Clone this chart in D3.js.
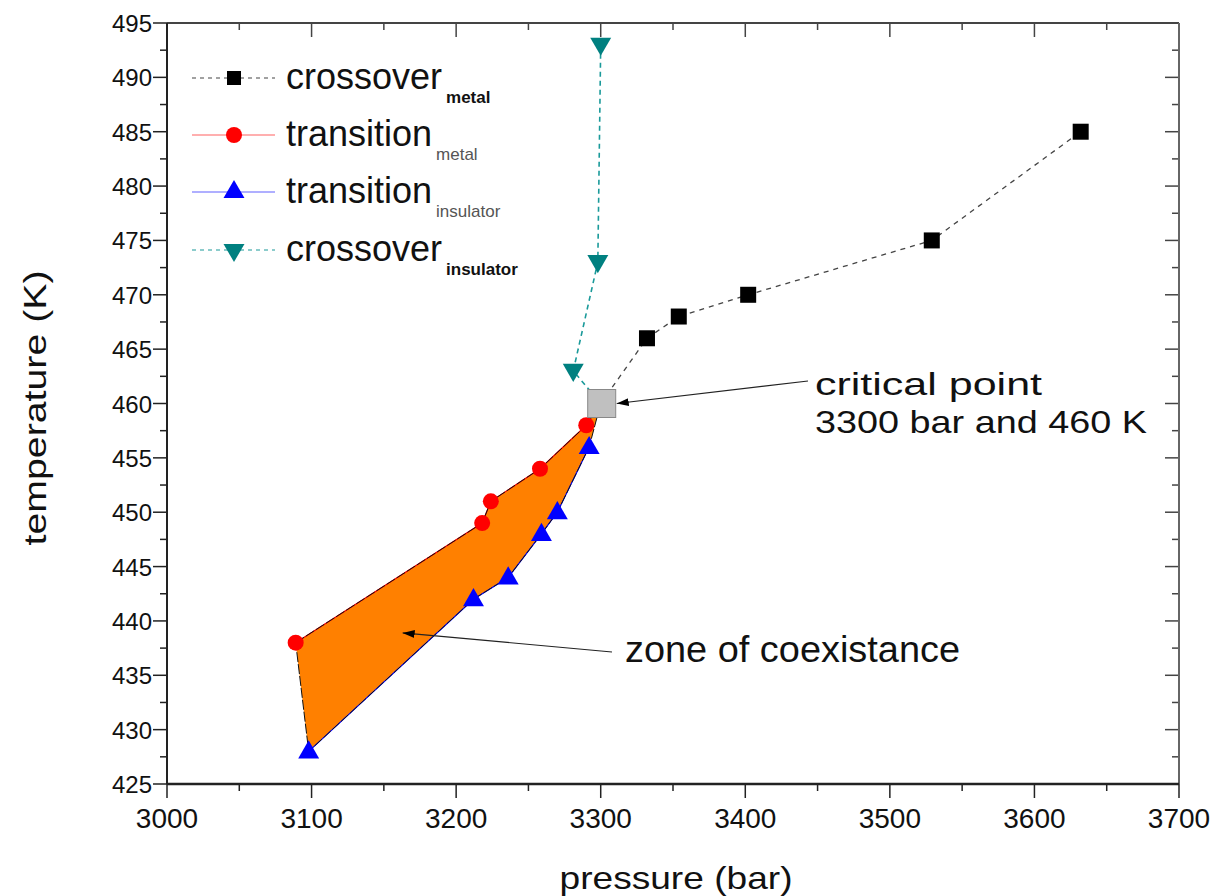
<!DOCTYPE html>
<html>
<head>
<meta charset="utf-8">
<script src="https://cdn.jsdelivr.net/npm/d3@7"></script>
<style>
  html, body { margin: 0; padding: 0; background: #fff; }
  svg { display: block; font-family: "Liberation Sans", Arial, sans-serif; }
</style>
</head>
<body>
<svg id="chart" width="1214" height="896"></svg>
<script>
// ---------------- data ----------------
const criticalPoint = [3300, 460];

const crossoverMetalP = [3300, 3332, 3354, 3402, 3529, 3632];
const crossoverMetalT = [460, 466, 468, 470, 475, 485];

const transitionMetalP = [3089, 3218, 3224, 3258, 3290];
const transitionMetalT = [438, 449, 451, 454, 458];

const transitionInsulatorP = [3098, 3212, 3236, 3259, 3270, 3292];
const transitionInsulatorT = [428, 442, 444, 448, 450, 456];

const crossoverInsulatorP = [3300, 3298, 3281, 3300];
const crossoverInsulatorT = [493, 473, 463, 460];
const crossoverInsulatorMarkers = 3; // last point is the critical point (hidden under square)

const xTicks = [3000, 3100, 3200, 3300, 3400, 3500, 3600, 3700];
const yTicks = [425, 430, 435, 440, 445, 450, 455, 460, 465, 470, 475, 480, 485, 490, 495];

const legendLabels = ["crossover", "transition", "transition", "crossover"];
const legendSubs = ["metal", "metal", "insulator", "insulator"];

// ---------------- layout ----------------
const svg = d3.select("#chart");
const L = 167, R = 1179, T = 23, B = 784;
const x = d3.scaleLinear().domain([3000, 3700]).range([L, R]);
const y = d3.scaleLinear().domain([425, 495]).range([B, T]);

const zip = (a, b) => a.map((v, i) => [v, b[i]]);
const cm = zip(crossoverMetalP, crossoverMetalT);
const tm = zip(transitionMetalP, transitionMetalT);
const ti = zip(transitionInsulatorP, transitionInsulatorT);
const ci = zip(crossoverInsulatorP, crossoverInsulatorT);

const line = d3.line().x(d => x(d[0])).y(d => y(d[1]));

const defs = svg.append("defs");
defs.append("marker").attr("id", "arrow")
  .attr("viewBox", "0 0 12 8").attr("refX", 12).attr("refY", 4)
  .attr("markerWidth", 12).attr("markerHeight", 8)
  .attr("markerUnits", "userSpaceOnUse").attr("orient", "auto-start-reverse")
  .append("path").attr("d", "M0,0 L12,4 L0,8 Z").attr("fill", "#000");

// ---------------- axes ----------------
const minorX = d3.range(3050, 3700, 100);
const minorY = d3.range(427.5, 495, 5);

// bottom (outward)
const gB = svg.append("g").attr("transform", `translate(0,${B})`);
gB.selectAll("line.maj").data(xTicks).join("line")
  .attr("x1", d => x(d)).attr("x2", d => x(d)).attr("y1", 0).attr("y2", 14)
  .attr("stroke", "#222").attr("stroke-width", 1.5);
gB.selectAll("line.min").data(minorX).join("line")
  .attr("x1", d => x(d)).attr("x2", d => x(d)).attr("y1", 0).attr("y2", 7)
  .attr("stroke", "#222").attr("stroke-width", 1.5);
gB.selectAll("text").data(xTicks).join("text")
  .attr("x", d => x(d)).attr("y", 44).attr("text-anchor", "middle")
  .attr("font-size", 28).attr("fill", "#111").text(d => d);

// top (inward)
const gT = svg.append("g").attr("transform", `translate(0,${T})`);
gT.selectAll("line.maj").data(xTicks).join("line")
  .attr("x1", d => x(d)).attr("x2", d => x(d)).attr("y1", 0).attr("y2", 14)
  .attr("stroke", "#444").attr("stroke-width", 1.5);
gT.selectAll("line.min").data(minorX).join("line")
  .attr("x1", d => x(d)).attr("x2", d => x(d)).attr("y1", 0).attr("y2", 7)
  .attr("stroke", "#444").attr("stroke-width", 1.5);

// left (outward)
const gL = svg.append("g").attr("transform", `translate(${L},0)`);
gL.selectAll("line.maj").data(yTicks).join("line")
  .attr("x1", -14).attr("x2", 0).attr("y1", d => y(d)).attr("y2", d => y(d))
  .attr("stroke", "#222").attr("stroke-width", 1.5);
gL.selectAll("line.min").data(minorY).join("line")
  .attr("x1", -7).attr("x2", 0).attr("y1", d => y(d)).attr("y2", d => y(d))
  .attr("stroke", "#222").attr("stroke-width", 1.5);
gL.selectAll("text").data(yTicks).join("text")
  .attr("x", -15).attr("y", d => y(d) + 9).attr("text-anchor", "end")
  .attr("font-size", 24).attr("fill", "#111").text(d => d);

// right (inward)
const gR = svg.append("g").attr("transform", `translate(${R},0)`);
gR.selectAll("line.maj").data(yTicks).join("line")
  .attr("x1", -14).attr("x2", 0).attr("y1", d => y(d)).attr("y2", d => y(d))
  .attr("stroke", "#444").attr("stroke-width", 1.5);
gR.selectAll("line.min").data(minorY).join("line")
  .attr("x1", -7).attr("x2", 0).attr("y1", d => y(d)).attr("y2", d => y(d))
  .attr("stroke", "#444").attr("stroke-width", 1.5);

// frame
svg.append("line").attr("x1", L).attr("x2", R).attr("y1", T).attr("y2", T).attr("stroke", "#444").attr("stroke-width", 2);
svg.append("line").attr("x1", R).attr("x2", R).attr("y1", T).attr("y2", B).attr("stroke", "#666").attr("stroke-width", 2);
svg.append("line").attr("x1", L).attr("x2", R).attr("y1", B).attr("y2", B).attr("stroke", "#222").attr("stroke-width", 2.5);
svg.append("line").attr("x1", L).attr("x2", L).attr("y1", T).attr("y2", B).attr("stroke", "#222").attr("stroke-width", 2);

// axis titles
svg.append("text").attr("x", 676).attr("y", 889).attr("text-anchor", "middle")
  .attr("font-size", 32).attr("fill", "#111")
  .attr("textLength", 233).attr("lengthAdjust", "spacingAndGlyphs").text("pressure (bar)");
svg.append("text").attr("transform", `translate(46,408) rotate(-90)`).attr("text-anchor", "middle")
  .attr("font-size", 31).attr("fill", "#111")
  .attr("textLength", 275).attr("lengthAdjust", "spacingAndGlyphs").text("temperature (K)");

// ---------------- coexistence zone ----------------
const zone = tm.concat([criticalPoint]).concat(ti.slice().reverse());
svg.append("path").attr("d", line(zone) + "Z")
  .attr("fill", "#FF8000").attr("stroke", "none");

// series lines
svg.append("path").attr("d", line(tm)).attr("fill", "none").attr("stroke", "#FF0000").attr("stroke-width", 1.2);
svg.append("path").attr("d", line(ti)).attr("fill", "none").attr("stroke", "#0000FF").attr("stroke-width", 1.2);
svg.append("path").attr("d", line(zone) + "Z").attr("fill", "none")
  .attr("stroke", "#111").attr("stroke-width", 1).attr("stroke-dasharray", "10,2");
svg.append("path").attr("d", line(cm)).attr("fill", "none").attr("stroke", "#444")
  .attr("stroke-width", 1.3).attr("stroke-dasharray", "5,5");
svg.append("path").attr("d", line(ci)).attr("fill", "none").attr("stroke", "#1a9a9a")
  .attr("stroke-width", 1.6).attr("stroke-dasharray", "5,4");

// markers
const sq = 16;
const symTri = d3.symbol().type(d3.symbolTriangle).size(190);

svg.selectAll("rect.cm").data(cm.slice(1)).join("rect")
  .attr("x", d => x(d[0]) - sq / 2).attr("y", d => y(d[1]) - sq / 2)
  .attr("width", sq).attr("height", sq).attr("fill", "#000");

svg.selectAll("circle.tm").data(tm).join("circle")
  .attr("cx", d => x(d[0])).attr("cy", d => y(d[1])).attr("r", 8).attr("fill", "#FF0000");

svg.selectAll("path.ti").data(ti).join("path")
  .attr("d", symTri).attr("transform", d => `translate(${x(d[0])},${y(d[1]) + 1})`).attr("fill", "#0000FF");

svg.selectAll("path.ci").data(ci.slice(0, crossoverInsulatorMarkers)).join("path")
  .attr("d", symTri).attr("transform", d => `translate(${x(d[0])},${y(d[1]) - 1}) rotate(180)`).attr("fill", "#008080");

// critical point square
svg.append("rect")
  .attr("x", x(criticalPoint[0]) - 13).attr("y", y(criticalPoint[1]) - 14)
  .attr("width", 28).attr("height", 28)
  .attr("fill", "#C0C0C0").attr("stroke", "#888").attr("stroke-width", 1);

// ---------------- annotations ----------------
svg.append("line")
  .attr("x1", 808).attr("y1", 381)
  .attr("x2", x(criticalPoint[0]) + 16).attr("y2", y(criticalPoint[1]))
  .attr("stroke", "#222").attr("stroke-width", 1.2).attr("marker-end", "url(#arrow)");
svg.append("text").attr("x", 815).attr("y", 395).attr("font-size", 32).attr("fill", "#111")
  .attr("textLength", 227).attr("lengthAdjust", "spacingAndGlyphs").text("critical point");
svg.append("text").attr("x", 815).attr("y", 433).attr("font-size", 32).attr("fill", "#111")
  .attr("textLength", 332).attr("lengthAdjust", "spacingAndGlyphs").text("3300 bar and 460 K");

svg.append("line")
  .attr("x1", 612).attr("y1", 652)
  .attr("x2", x(3163)).attr("y2", y(438.9))
  .attr("stroke", "#222").attr("stroke-width", 1.2).attr("marker-end", "url(#arrow)");
svg.append("text").attr("x", 625).attr("y", 662).attr("font-size", 36).attr("fill", "#111")
  .attr("textLength", 335).attr("lengthAdjust", "spacingAndGlyphs").text("zone of coexistance");

// ---------------- legend ----------------
const legendY = [78, 135, 192, 250];
const legendStyle = [
  { stroke: "#444", dash: "4,4", kind: "square", color: "#000", subBold: true },
  { stroke: "#FF6060", dash: null, kind: "circle", color: "#FF0000", subBold: false },
  { stroke: "#6060FF", dash: null, kind: "up", color: "#0000FF", subBold: false },
  { stroke: "#1a9a9a", dash: "4,4", kind: "down", color: "#008080", subBold: true }
];
const lg = svg.append("g");
legendLabels.forEach((lab, i) => {
  const yy = legendY[i], st = legendStyle[i];
  lg.append("line").attr("x1", 192).attr("x2", 275).attr("y1", yy).attr("y2", yy)
    .attr("stroke", st.stroke).attr("stroke-width", 1.2).attr("stroke-dasharray", st.dash);
  if (st.kind === "square") {
    lg.append("rect").attr("x", 234 - 7).attr("y", yy - 7).attr("width", 14).attr("height", 14).attr("fill", st.color);
  } else if (st.kind === "circle") {
    lg.append("circle").attr("cx", 234).attr("cy", yy).attr("r", 8).attr("fill", st.color);
  } else {
    lg.append("path").attr("d", symTri)
      .attr("transform", `translate(234,${yy}) ${st.kind === "down" ? "rotate(180)" : ""}`)
      .attr("fill", st.color);
  }
  const t = lg.append("text").attr("x", 286).attr("y", yy + 11).attr("font-size", 36).attr("fill", "#111");
  t.append("tspan").text(lab);
  t.append("tspan").attr("dx", 4).attr("dy", 14).attr("font-size", 17)
    .attr("font-weight", st.subBold ? "bold" : "normal")
    .attr("fill", st.subBold ? "#111" : "#555").text(legendSubs[i]);
});
</script>
</body>
</html>
